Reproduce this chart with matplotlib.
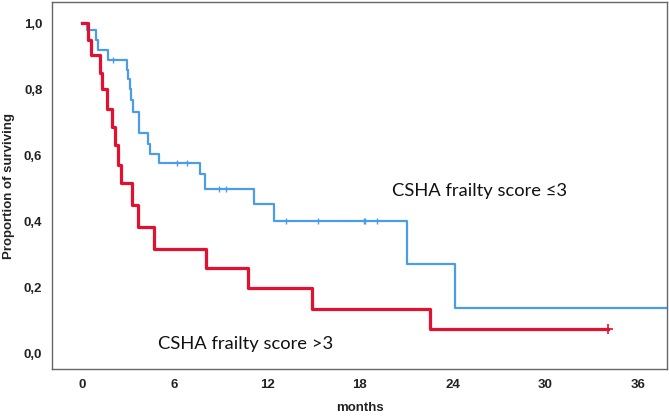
import numpy as np
import matplotlib as mpl
mpl.use('Agg')
import matplotlib.pyplot as plt

# Kaplan-Meier steps (months, proportion surviving)
t_high = [0, 0.37, 0.56, 1.17, 1.28, 1.6, 1.93, 2.14, 2.36, 2.53, 3.25, 3.65,
          4.69, 8.02, 10.72, 14.93, 22.57, 34.1]
s_high = [1.0, 0.95, 0.905, 0.85, 0.80, 0.74, 0.685, 0.63, 0.57, 0.515, 0.448,
          0.383, 0.317, 0.257, 0.196, 0.135, 0.073, 0.073]
cens_high = [34.1]

t_low = [0, 0.3, 0.91, 1.02, 1.67, 2.9, 3.0, 3.1, 3.18, 3.29, 3.72, 4.3, 4.41,
         5.01, 7.65, 7.98, 11.15, 12.41, 21.06, 24.19, 40]
s_low = [1.0, 0.98, 0.95, 0.92, 0.888, 0.858, 0.83, 0.80, 0.767, 0.732, 0.667,
         0.635, 0.603, 0.575, 0.544, 0.499, 0.452, 0.40, 0.27, 0.138, 0.138]
cens_low = [2.03, 6.18, 6.83, 8.9, 9.32, 13.2, 15.28, 18.24, 18.35, 19.11]

xticks = [0, 6, 12, 18, 24, 30, 36]
yticks = [0.0, 0.2, 0.4, 0.6, 0.8, 1.0]

red = '#E3112F'
blue = '#4C9DE8'


def surv_at(t, s, x):
    i = np.searchsorted(t, x, side='right') - 1
    return np.array(s)[i]


fig = plt.figure(figsize=(6.69, 4.16), dpi=100)
ax = fig.add_axes([0.0777, 0.113, 0.9193, 0.882])

ax.step(t_low, s_low, where='post', color=blue, lw=1.6)
ax.plot(cens_low, surv_at(t_low, s_low, cens_low), ls='none', marker='|',
        ms=5, mew=1.0, color=blue)
ax.step(t_high, s_high, where='post', color=red, lw=2.3)
ax.plot(cens_high, surv_at(t_high, s_high, cens_high), ls='none', marker='+',
        ms=7, mew=1.2, color=red)

ax.set_xlim(-1.95, 37.9)
ax.set_ylim(-0.048, 1.064)
ax.set_xticks(xticks)
ax.set_xticklabels([str(v) for v in xticks])
ax.set_yticks(yticks)
ax.set_yticklabels([('%.1f' % v).replace('.', ',') for v in yticks])
ax.tick_params(length=0, pad=7)
for lab in ax.get_xticklabels() + ax.get_yticklabels():
    lab.set_fontfamily('Liberation Sans')
    lab.set_fontweight('bold')
    lab.set_fontsize(9.5)
    lab.set_color('#222222')
for sp in ax.spines.values():
    sp.set_color('#666666')
    sp.set_linewidth(1.0)

ax.set_xlabel('months', family='Liberation Sans', fontsize=9.5,
              fontweight='bold', color='#222222', labelpad=8)
ax.set_ylabel('Proportion of surviving', family='Liberation Sans',
              fontsize=9.5, fontweight='bold', color='#222222', labelpad=6)

ax.text(20.08, 0.49, 'CSHA frailty score ≤3', fontsize=13.2, family='Lato',
        va='center', color='#111111')
ax.text(4.93, 0.027, 'CSHA frailty score >3', fontsize=13.2, family='Lato',
        va='center', color='#111111')

fig.savefig('out.png')
